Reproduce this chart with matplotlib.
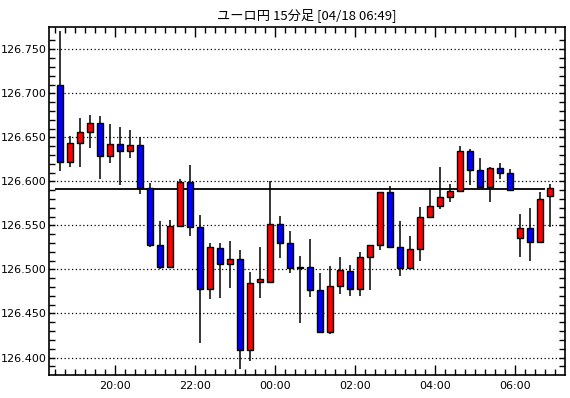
import matplotlib
matplotlib.use('Agg')
import matplotlib.pyplot as plt
import numpy as np
import pandas as pd

# 15 minute bars, EUR/JPY, starting 18:30
start = '2016-04-17 18:30'
opens = [126.710, 126.622, 126.644, 126.656, 126.666, 126.629, 126.642, 126.634, 126.641, 126.592,
         126.528, 126.503, 126.549, 126.599, 126.548, 126.478, 126.524, 126.506, 126.512, 126.409,
         126.486, 126.486, 126.552, 126.530, 126.5025, 126.503, 126.477, 126.429, 126.481, 126.498,
         126.478, 126.514, 126.528, 126.588, 126.526, 126.502, 126.523, 126.560, 126.572, 126.582,
         126.589, 126.634, 126.613, 126.594, 126.615, 126.609, 126.536, 126.547, 126.531, 126.583]
highs = [126.771, 126.652, 126.672, 126.675, 126.674, 126.665, 126.662, 126.658, 126.650, 126.598,
         126.555, 126.556, 126.603, 126.619, 126.562, 126.530, 126.530, 126.532, 126.522, 126.497,
         126.525, 126.600, 126.561, 126.544, 126.515, 126.534, 126.496, 126.504, 126.514, 126.505,
         126.520, 126.528, 126.588, 126.595, 126.555, 126.538, 126.571, 126.592, 126.616, 126.597,
         126.640, 126.637, 126.627, 126.616, 126.621, 126.614, 126.563, 126.570, 126.588, 126.597]
lows = [126.612, 126.616, 126.616, 126.638, 126.603, 126.621, 126.596, 126.626, 126.586, 126.525,
        126.500, 126.503, 126.549, 126.538, 126.416, 126.466, 126.468, 126.479, 126.387, 126.396,
        126.468, 126.486, 126.513, 126.496, 126.439, 126.469, 126.429, 126.427, 126.472, 126.470,
        126.470, 126.477, 126.522, 126.526, 126.492, 126.502, 126.510, 126.560, 126.569, 126.577,
        126.589, 126.596, 126.594, 126.577, 126.603, 126.590, 126.514, 126.510, 126.531, 126.548]
closes = [126.622, 126.644, 126.656, 126.666, 126.629, 126.642, 126.634, 126.641, 126.592, 126.528,
          126.503, 126.549, 126.599, 126.548, 126.478, 126.525, 126.506, 126.512, 126.409, 126.485,
          126.489, 126.552, 126.530, 126.502, 126.502, 126.477, 126.429, 126.481, 126.499, 126.478,
          126.514, 126.528, 126.588, 126.526, 126.502, 126.523, 126.560, 126.572, 126.582, 126.589,
          126.634, 126.613, 126.594, 126.615, 126.609, 126.590, 126.547, 126.531, 126.580, 126.593]
price_line = 126.591
title = 'ユーロ円 15分足 [04/18 06:49]'

times = pd.date_range(start, periods=len(opens), freq='15min')
o = np.array(opens); h = np.array(highs); l = np.array(lows); c = np.array(closes)
x = np.arange(len(o))

plt.rcParams['font.family'] = ['DejaVu Sans']
fig = plt.figure(figsize=(5.7, 3.98), dpi=100)
ax = fig.add_axes([49 / 570, 1 - 374.5 / 398, (565 - 49) / 570, (374.5 - 27) / 398])

# grid and price line
for v in np.arange(126.40, 126.76, 0.05):
    ax.axhline(v, color='black', lw=0.9, ls=(0, (1, 2)), zorder=1)
ax.hlines(price_line, -0.5, len(o) - 1.5, color='black', lw=1.3, zorder=2)

# candles
colors = np.where(c >= o, '#ff0000', '#0000ff')
ax.vlines(x, l, h, color='black', lw=1.1, zorder=3)
bottom = np.minimum(o, c)
height = np.maximum(np.abs(c - o), 0.0003)
ax.bar(x, height, bottom=bottom, width=0.62, color=colors, edgecolor='black', lw=1.0, zorder=4)

ax.set_xlim(-1.1, len(o) + 0.47)
ax.set_ylim(126.3807, 126.7753)

# x ticks at every even hour, minor ticks at every bar boundary
major_pos = [i - 0.5 for i, t in enumerate(times) if t.minute == 0 and t.hour % 2 == 0]
major_lab = [t.strftime('%H:%M') for t in times if t.minute == 0 and t.hour % 2 == 0]
ax.set_xticks(major_pos)
ax.set_xticklabels(major_lab)
ax.set_xticks(np.arange(-0.5, len(o) + 0.5, 1), minor=True)

ax.set_yticks(np.arange(126.40, 126.76, 0.05))
ax.set_yticklabels(['%.3f' % v for v in np.arange(126.40, 126.76, 0.05)])
ax.set_yticks(np.arange(126.39, 126.77, 0.01), minor=True)

ax.tick_params(which='both', direction='in', top=True, right=True, colors='black',
               labelsize=8, width=1)
ax.tick_params(which='major', length=7, pad=5)
ax.tick_params(which='minor', length=4)
ax.tick_params(axis='y', which='major', length=4, pad=1.5)
for s in ax.spines.values():
    s.set_linewidth(1.2)

ax.set_title(title, fontsize=9.5, family=['Noto Sans CJK JP', 'DejaVu Sans'], pad=6)

fig.savefig('out.png', dpi=100)
